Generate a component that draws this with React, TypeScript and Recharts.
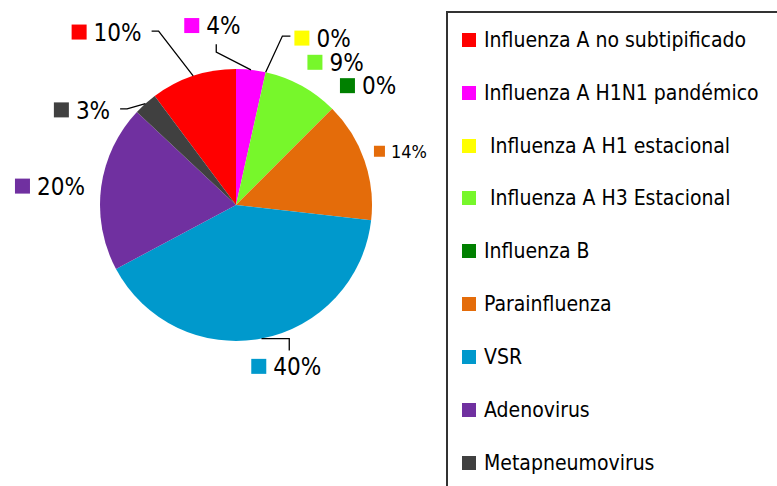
import React from 'react';
import { PieChart, Pie, Cell, Legend } from 'recharts';

// ---- data ----
const categories = [
  'Influenza A no subtipificado',
  'Influenza A H1N1 pandémico',
  ' Influenza A H1 estacional',
  ' Influenza A H3 Estacional',
  'Influenza B',
  'Parainfluenza',
  'VSR',
  'Adenovirus',
  'Metapneumovirus',
];
const percentages = [10.2, 3.5, 0, 9.0, 0, 14.3, 40.4, 19.8, 2.8];
const percentLabels = ['10%', '4%', '0%', '9%', '0%', '14%', '40%', '20%', '3%'];
const colors = ['#FF0000', '#FF00FF', '#FFFF00', '#77F72B', '#008000', '#E46C0A', '#0099CC', '#7030A0', '#404040'];

// ---- label layout (Excel "best fit" placement): angle clockwise from 12 o'clock, distance from centre ----
const labelAngles = [323.2, 352.5, 27.4, 34.9, 47.9, 71.9, 162.7, 275.8, 301.7];
const labelRadii = [216, 181, 188, 174, 178, 173, 169, 187, 181];
const labelFontSizes = [24, 24, 24, 24, 24, 18, 24, 24, 24];
const leaderSides = ['right', 'bottom', 'left', '', '', '', 'top', '', 'right'];

const FONT = "'DejaVu Sans Condensed', 'DejaVu Sans', sans-serif";

const chartData = categories.map((name, i) => ({ name, value: percentages[i] }));

const RAD = Math.PI / 180;

const renderLabel = (props: any) => {
  const { cx, cy, midAngle, outerRadius, index } = props;
  const edgeX = cx + outerRadius * Math.cos(-midAngle * RAD);
  const edgeY = cy + outerRadius * Math.sin(-midAngle * RAD);
  const th = labelAngles[index];
  const lr = labelRadii[index];
  const gx = cx + lr * Math.sin(th * RAD);
  const gy = cy - lr * Math.cos(th * RAD);
  const fs = labelFontSizes[index];
  const big = fs >= 24;
  const box = big ? 15 : 11;
  const gap = big ? 7 : 6;
  const text = percentLabels[index];
  const textW = fs * (0.572 * (text.length - 1) + 0.855);
  const totalW = box + gap + textW;
  const left = gx - totalW / 2;
  const textX = left + box + gap;
  const right = textX + textW;
  const top = gy - fs * 0.45;
  const bottom = gy + fs * 0.4;
  let path = '';
  const side = leaderSides[index];
  if (side === 'right') {
    path = `M${edgeX},${edgeY} L${right + 17},${gy - 1} L${right + 10},${gy - 1}`;
  } else if (side === 'left') {
    path = `M${edgeX},${edgeY} L${left - 12},${gy - 2} L${left - 4},${gy - 2}`;
  } else if (side === 'bottom') {
    path = `M${edgeX},${edgeY} L${textX + 10},${bottom + 17} L${textX + 10},${bottom + 9}`;
  } else if (side === 'top') {
    path = `M${edgeX},${edgeY} L${gx + 3},${edgeY} L${gx + 3},${top - 5}`;
  }
  return (
    <g key={`lbl-${index}`}>
      {path && <path d={path} stroke="#000" strokeWidth={1.3} fill="none" />}
      <rect x={left} y={gy - box / 2} width={box} height={box} fill={colors[index]} />
      <text
        x={textX}
        y={gy + fs * 0.36}
        fontSize={fs}
        fontFamily={FONT}
        fill="#000"
        textAnchor="start"
      >
        {text}
      </text>
    </g>
  );
};

const renderLegend = () => (
  <div
    style={{
      position: 'relative',
      width: 360,
      height: 490,
      boxSizing: 'border-box',
      border: '2px solid #333',
      background: '#fff',
      fontFamily: FONT,
      fontSize: 21,
      color: '#000',
    }}
  >
    {categories.map((c, i) => (
      <div
        key={c}
        style={{
          position: 'absolute',
          left: 14,
          top: 28.7 + 52.9 * i - 15 - 2,
          height: 30,
          display: 'flex',
          alignItems: 'center',
          whiteSpace: 'pre',
          lineHeight: '30px',
        }}
      >
        <span style={{ display: 'inline-block', width: 14, height: 14, background: colors[i], marginRight: 8 }} />
        <span>{c}</span>
      </div>
    ))}
  </div>
);

export default function App() {
  return (
    <div style={{ position: 'absolute', left: 0, top: 0, width: 777, height: 486, overflow: 'hidden', background: '#fff' }}>
      <PieChart width={777} height={486} margin={{ top: 0, right: 0, bottom: 0, left: 0 }}>
        <Pie
          data={chartData}
          dataKey="value"
          nameKey="name"
          cx={236}
          cy={205}
          outerRadius={136}
          startAngle={90 + percentages[0] * 3.6}
          endAngle={90 + percentages[0] * 3.6 - 360}
          stroke="none"
          label={renderLabel}
          labelLine={false}
          isAnimationActive={false}
        >
          {chartData.map((d, i) => (
            <Cell key={d.name} fill={colors[i]} />
          ))}
        </Pie>
        <Legend
          layout="vertical"
          align="right"
          verticalAlign="top"
          content={renderLegend}
          wrapperStyle={{ left: 446, top: 11, right: 'auto', bottom: 'auto', width: 360, height: 490 }}
        />
      </PieChart>
    </div>
  );
}
